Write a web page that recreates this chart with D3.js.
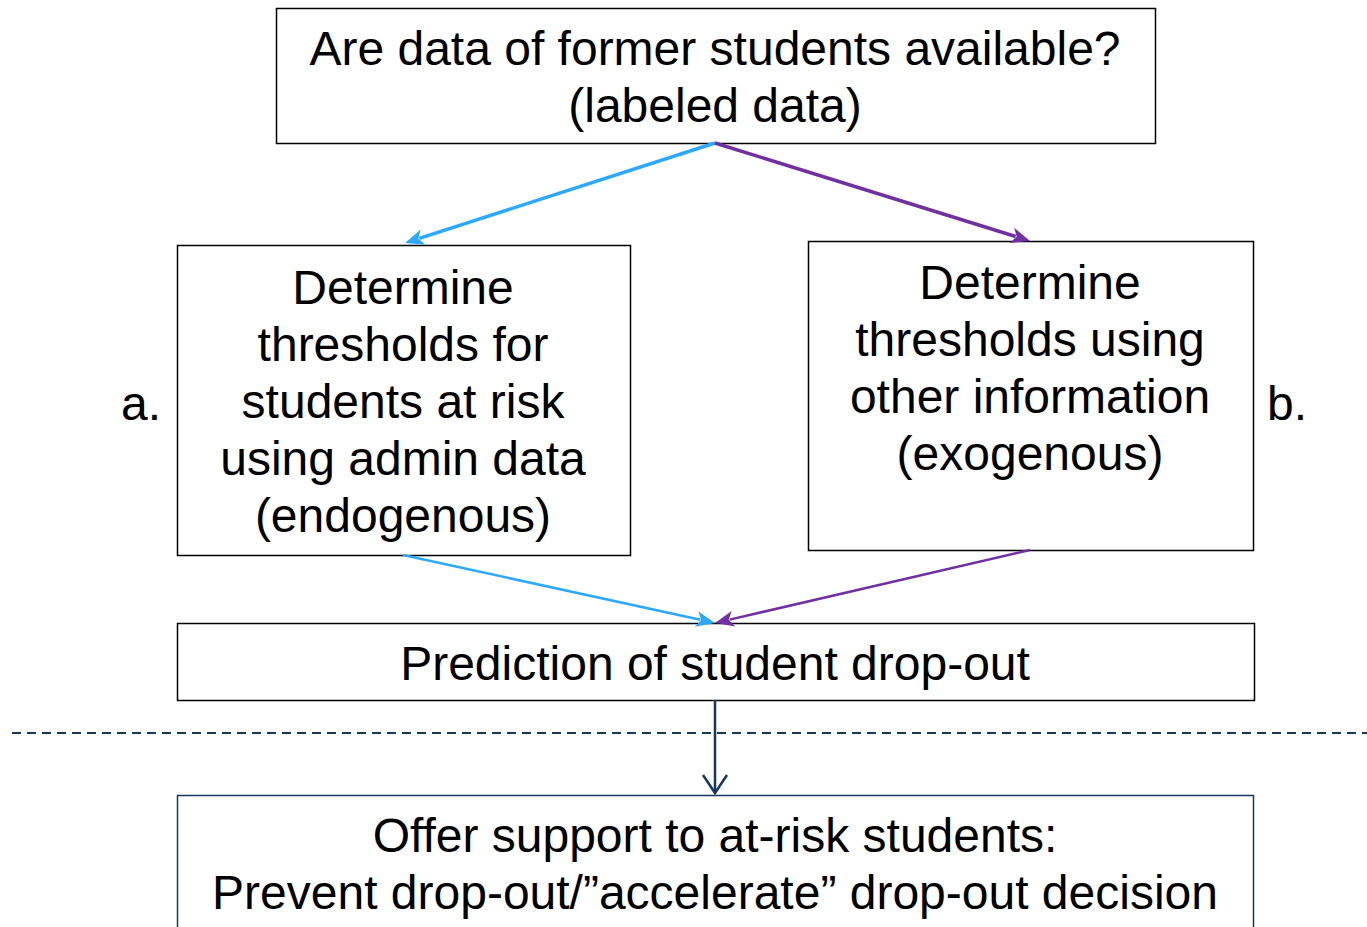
<!DOCTYPE html>
<html>
<head>
<meta charset="utf-8">
<script src="https://cdn.jsdelivr.net/npm/d3@7"></script>
<style>
  body { margin: 0; background: #fff; }
  text { font-family: "Liberation Sans", Arial, sans-serif; font-size: 48px; fill: #000; }
</style>
</head>
<body>
<script>
// node texts
var topLines = ["Are data of former students available?", "(labeled data)"];
var leftLines = ["Determine", "thresholds for", "students at risk", "using admin data", "(endogenous)"];
var rightLines = ["Determine", "thresholds using", "other information", "(exogenous)"];
var midLines = ["Prediction of student drop-out"];
var bottomLines = ["Offer support to at-risk students:", "Prevent drop-out/\u201daccelerate\u201d drop-out decision"];
var sideLabels = ["a.", "b."];

var W = 1367, H = 927;
var blue = "#2CA9FF", purple = "#7030A0", navy = "#17375E";

var svg = d3.select("body").append("svg").attr("width", W).attr("height", H);

// box geometry [x, y, w, h], text centre x, first baseline
var boxes = [
  {lines: topLines, x: 276, y: 8, w: 879, h: 135, cx: 715, b0: 65, stroke: "#000"},
  {lines: leftLines, x: 177, y: 245, w: 453, h: 310, cx: 403, b0: 304, stroke: "#000"},
  {lines: rightLines, x: 808, y: 241, w: 445, h: 309, cx: 1030, b0: 299, stroke: "#000"},
  {lines: midLines, x: 177, y: 623, w: 1077, h: 77, cx: 715, b0: 680, stroke: "#000"},
  {lines: bottomLines, x: 177, y: 795, w: 1076, h: 160, cx: 715, b0: 852, stroke: navy}
];
var lineH = 57;

var g = svg.selectAll("g.box").data(boxes).enter().append("g").attr("class", "box");
g.append("rect")
  .attr("x", function(d){ return d.x + 0.5; })
  .attr("y", function(d){ return d.y + 0.5; })
  .attr("width", function(d){ return d.w; })
  .attr("height", function(d){ return d.h; })
  .attr("fill", "none")
  .attr("stroke", function(d){ return d.stroke; })
  .attr("stroke-width", 1.5);
g.each(function(d){
  d3.select(this).selectAll("text").data(d.lines).enter().append("text")
    .attr("x", d.cx)
    .attr("y", function(t, i){ return d.b0 + i * lineH; })
    .attr("text-anchor", "middle")
    .text(function(t){ return t; });
});

// side labels
svg.selectAll("text.side").data(sideLabels).enter().append("text")
  .attr("class", "side")
  .attr("x", function(d, i){ return i === 0 ? 141 : 1287; })
  .attr("y", 420)
  .attr("text-anchor", "middle")
  .text(function(d){ return d; });

// dashed separator
svg.append("line")
  .attr("x1", 12).attr("x2", W).attr("y1", 733).attr("y2", 733)
  .attr("stroke", navy).attr("stroke-width", 2)
  .attr("stroke-dasharray", "9,6");

// arrows with filled heads
var arrows = [
  {x1: 715, y1: 143, x2: 405, y2: 243, c: blue, w: 3.5},
  {x1: 715, y1: 143, x2: 1030, y2: 241, c: purple, w: 3.5},
  {x1: 403, y1: 555, x2: 715, y2: 623, c: blue, w: 2.5},
  {x1: 1030, y1: 550, x2: 715, y2: 623, c: purple, w: 2.5}
];
arrows.forEach(function(a){
  var dx = a.x2 - a.x1, dy = a.y2 - a.y1, L = Math.sqrt(dx*dx + dy*dy);
  var ux = dx / L, uy = dy / L, hl = 19, hw = 8;
  var bx = a.x2 - ux * hl, by = a.y2 - uy * hl;
  svg.append("line")
    .attr("x1", a.x1).attr("y1", a.y1).attr("x2", bx + ux * 4).attr("y2", by + uy * 4)
    .attr("stroke", a.c).attr("stroke-width", a.w);
  svg.append("path")
    .attr("d", d3.line()([[a.x2, a.y2], [bx - uy * hw, by + ux * hw], [bx + ux * 5, by + uy * 5], [bx + uy * hw, by - ux * hw]]) + "Z")
    .attr("fill", a.c);
});

// navy arrow with open head
svg.append("line")
  .attr("x1", 715).attr("y1", 700).attr("x2", 715).attr("y2", 794)
  .attr("stroke", navy).attr("stroke-width", 2.5);
svg.append("path")
  .attr("d", d3.line()([[703, 775], [715, 793], [727, 775]]))
  .attr("fill", "none").attr("stroke", navy).attr("stroke-width", 2.5);
</script>
</body>
</html>
